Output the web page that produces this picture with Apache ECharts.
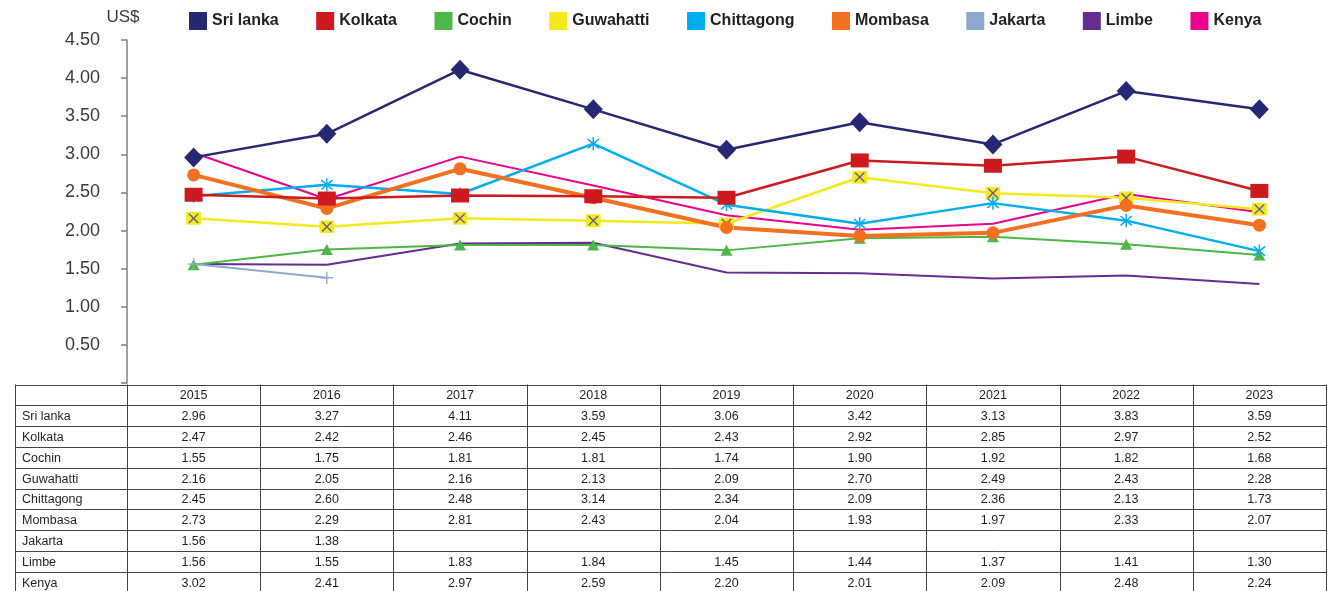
<!DOCTYPE html>
<html>
<head>
<meta charset="utf-8">
<script src="https://cdn.jsdelivr.net/npm/echarts@6/dist/echarts.min.js"></script>
<style>
  html, body { margin: 0; padding: 0; background: #fff; }
  #chart { width: 1332px; height: 591px; }
</style>
</head>
<body>
<div id="chart"></div>
<script>
const years = ['2015', '2016', '2017', '2018', '2019', '2020', '2021', '2022', '2023']

const sriLanka = [2.96, 3.27, 4.11, 3.59, 3.06, 3.42, 3.13, 3.83, 3.59]
const kolkata = [2.47, 2.42, 2.46, 2.45, 2.43, 2.92, 2.85, 2.97, 2.52]
const cochin = [1.55, 1.75, 1.81, 1.81, 1.74, 1.90, 1.92, 1.82, 1.68]
const guwahatti = [2.16, 2.05, 2.16, 2.13, 2.09, 2.70, 2.49, 2.43, 2.28]
const chittagong = [2.45, 2.60, 2.48, 3.14, 2.34, 2.09, 2.36, 2.13, 1.73]
const mombasa = [2.73, 2.29, 2.81, 2.43, 2.04, 1.93, 1.97, 2.33, 2.07]
const jakarta = [1.56, 1.38, null, null, null, null, null, null, null]
const limbe = [1.56, 1.55, 1.83, 1.84, 1.45, 1.44, 1.37, 1.41, 1.30]
const kenya = [3.02, 2.41, 2.97, 2.59, 2.20, 2.01, 2.09, 2.48, 2.24]

const textColor = '#231f20'
const fontFamily = '"Liberation Sans", Arial, sans-serif'

function svgSymbol(svg) {
  return 'image://data:image/svg+xml;charset=utf-8,' + encodeURIComponent(svg)
}

// yellow box with purple cross (Guwahatti)
const crossBox = svgSymbol(
  "<svg xmlns='http://www.w3.org/2000/svg' width='16' height='14' viewBox='0 0 16 14'>" +
  "<rect x='0' y='0' width='16' height='14' fill='#f3e91c'/>" +
  "<path d='M3 2L13 12M13 2L3 12' stroke='#6d5a92' stroke-width='1.5' fill='none'/></svg>"
)
// cyan asterisk (Chittagong)
const asterisk = svgSymbol(
  "<svg xmlns='http://www.w3.org/2000/svg' width='16' height='16' viewBox='0 0 16 16'>" +
  "<path d='M8 1L8 15M2 3L14 13M14 3L2 13' stroke='#00aeef' stroke-width='1.6' fill='none'/></svg>"
)
// light blue plus (Jakarta)
const plus = svgSymbol(
  "<svg xmlns='http://www.w3.org/2000/svg' width='16' height='16' viewBox='0 0 16 16'>" +
  "<path d='M8 1L8 15M1 8L15 8' stroke='#8ea9d0' stroke-width='1.6' fill='none'/></svg>"
)

const rows = [
  { name: 'Sri lanka', data: sriLanka, color: '#262874', width: 2.5, symbol: 'diamond', size: [19, 20], z: 5 },
  { name: 'Kolkata', data: kolkata, color: '#cc1a20', width: 2.5, symbol: 'rect', size: [18, 14], z: 4 },
  { name: 'Cochin', data: cochin, color: '#4db748', width: 2, symbol: 'triangle', size: [12, 11], z: 3 },
  { name: 'Guwahatti', data: guwahatti, color: '#f3e91c', width: 2.5, symbol: crossBox, size: [15, 13], z: 3 },
  { name: 'Chittagong', data: chittagong, color: '#00aeef', width: 2.5, symbol: asterisk, size: 15, z: 3 },
  { name: 'Mombasa', data: mombasa, color: '#f37021', width: 4, symbol: 'circle', size: 13, z: 3 },
  { name: 'Jakarta', data: jakarta, color: '#8ea9d0', width: 2, symbol: plus, size: 14, z: 3 },
  { name: 'Limbe', data: limbe, color: '#662d91', width: 2, symbol: 'none', size: 0, z: 2 },
  { name: 'Kenya', data: kenya, color: '#ec008c', width: 2, symbol: 'none', size: 0, z: 2 }
]

const chart = echarts.init(document.getElementById('chart'))

chart.setOption({
  animation: false,
  backgroundColor: '#fff',
  grid: { left: 127, right: 6, top: 40, bottom: 208 },
  legend: {
    left: 184,
    top: 7,
    icon: 'rect',
    itemWidth: 18,
    itemHeight: 18,
    itemGap: 37.5,
    textStyle: { fontSize: 16, fontWeight: 'bold', color: textColor, fontFamily },
    data: rows.map((r) => r.name)
  },
  xAxis: {
    type: 'category',
    data: years,
    boundaryGap: true,
    axisLine: { show: false },
    axisTick: { show: false },
    axisLabel: { show: false }
  },
  yAxis: {
    type: 'value',
    min: 0,
    max: 4.5,
    interval: 0.5,
    name: 'US$',
    nameLocation: 'end',
    nameGap: 14,
    nameTextStyle: { fontSize: 17, color: '#3a3a3a', fontFamily, padding: [0, 8, 0, 0] },
    axisLine: { show: true, lineStyle: { color: '#7f7f7f', width: 1.5 } },
    axisTick: { show: true, length: 6, lineStyle: { color: '#7f7f7f', width: 1.5 } },
    axisLabel: {
      margin: 27,
      fontSize: 18,
      color: '#3a3a3a',
      fontFamily,
      formatter: (v) => (v === 0 ? '' : v.toFixed(2))
    },
    splitLine: { show: false }
  },
  series: rows.map((r) => ({
    type: 'line',
    name: r.name,
    data: r.data,
    z: r.z,
    symbol: r.symbol,
    symbolSize: r.size,
    showSymbol: r.symbol !== 'none',
    connectNulls: false,
    itemStyle: { color: r.color },
    lineStyle: { color: r.color, width: r.width }
  }))
})

// data table under the plot, columns follow the category bands
function drawTable() {
  const centers = years.map((y) => chart.convertToPixel({ xAxisIndex: 0 }, y))
  const band = centers[1] - centers[0]
  const top = chart.convertToPixel({ yAxisIndex: 0 }, 0) + 1.5
  const rowH = 20.8
  const left = 15
  const right = centers[centers.length - 1] + band / 2
  const edges = [left].concat(centers.map((c) => c - band / 2), [right])
  const bottom = top + rowH * (rows.length + 1)
  const line = { stroke: '#444', lineWidth: 1 }
  const els = []

  for (let i = 0; i <= rows.length + 1; i++) {
    const y = Math.round(top + i * rowH) + 0.5
    els.push({ type: 'line', shape: { x1: left, y1: y, x2: right, y2: y }, style: line })
  }
  edges.forEach((x) => {
    const xx = Math.round(x) + 0.5
    els.push({ type: 'line', shape: { x1: xx, y1: top, x2: xx, y2: bottom }, style: line })
  })

  const font = '12.5px ' + fontFamily
  years.forEach((y, j) => {
    els.push({
      type: 'text',
      style: { text: y, x: centers[j], y: top + rowH / 2 + 1, align: 'center', verticalAlign: 'middle', font, fill: textColor }
    })
  })
  rows.forEach((r, i) => {
    const cy = top + (i + 1) * rowH + rowH / 2 + 1
    els.push({
      type: 'text',
      style: { text: r.name, x: 22, y: cy, align: 'left', verticalAlign: 'middle', font, fill: textColor }
    })
    r.data.forEach((v, j) => {
      if (v == null) return
      els.push({
        type: 'text',
        style: { text: v.toFixed(2), x: centers[j], y: cy, align: 'center', verticalAlign: 'middle', font, fill: textColor }
      })
    })
  })

  chart.setOption({ graphic: { elements: els } })
}

drawTable()
</script>
</body>
</html>
